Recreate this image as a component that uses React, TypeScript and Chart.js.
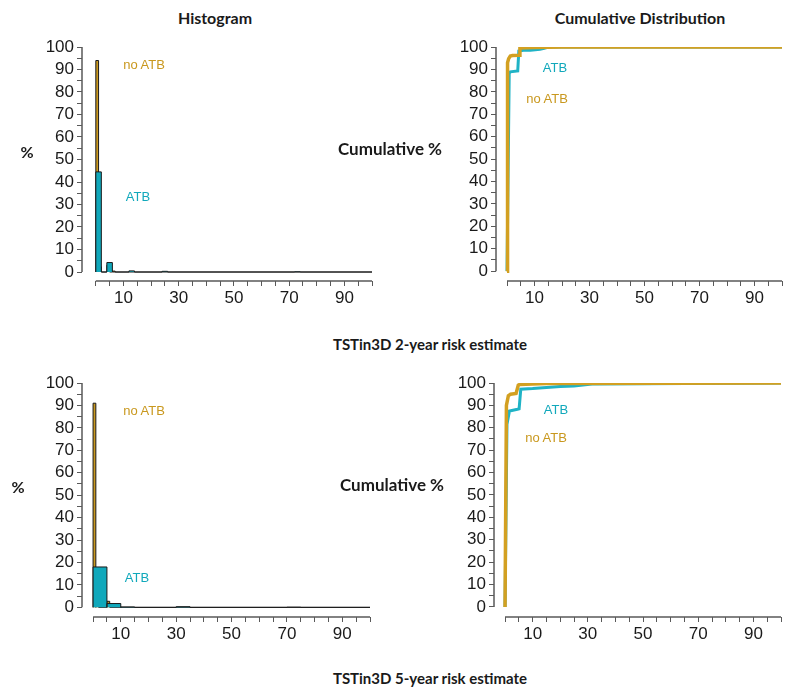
import React, { useEffect, useRef } from "react";
import { Chart, registerables } from "chart.js";

Chart.register(...registerables);

// ---------- colours ----------
const GOLD = "#C9981E";
const TEAL = "#10A8BB";
const GOLD_LINE = "#D3A021";
const TEAL_LINE = "#1FB3C6";
const AXIS = "#595959";
const TEXT = "#1a1a1a";

// ---------- tick values ----------
const xTickValues = [0, 5, 10, 15, 20, 25, 30, 35, 40, 45, 50, 55, 60, 65, 70, 75, 80, 85, 90, 95, 100];
const xLabelValues = [10, 30, 50, 70, 90];
const yTickValues = [0, 5, 10, 15, 20, 25, 30, 35, 40, 45, 50, 55, 60, 65, 70, 75, 80, 85, 90, 95, 100];
const yLabelValues = [0, 10, 20, 30, 40, 50, 60, 70, 80, 90, 100];

// ---------- histogram data (percent, bins given by start and width) ----------
const hist2yrAtbStart = [0, 4, 12, 24, 72];
const hist2yrAtbPct = [44.5, 4.2, 0.5, 0.3, 0.1];
const hist2yrAtbWidth = 2;
const hist2yrNoAtbStart = [0, 1, 4, 6];
const hist2yrNoAtbPct = [94, 2.3, 3.0, 0.4];
const hist2yrNoAtbWidth = 1;

const hist5yrAtbStart = [0, 5, 10, 30, 70];
const hist5yrAtbPct = [18, 1.7, 0.2, 0.3, 0.1];
const hist5yrAtbWidth = 5;
const hist5yrNoAtbStart = [0, 1, 5];
const hist5yrNoAtbPct = [91, 4.3, 2.7];
const hist5yrNoAtbWidth = 1;

// ---------- cumulative distribution data ----------
const cum2yrNoAtbX = [0, 0.2, 0.6, 1.2, 2, 4.4, 4.7, 10, 20, 40, 100];
const cum2yrNoAtbY = [0, 93, 94.8, 96, 96.2, 96.3, 99.6, 99.8, 100, 100, 100];
const cum2yrAtbX = [0, 0.8, 1.2, 3.9, 4.3, 6, 8.5, 12, 13.5, 15, 100];
const cum2yrAtbY = [0, 88.2, 88.9, 89.3, 98.2, 98.5, 98.6, 99, 99.4, 100, 100];

const cum5yrNoAtbX = [0, 0.5, 1.2, 2, 4, 4.8, 5.2, 10, 15, 100];
const cum5yrNoAtbY = [0, 90, 94.3, 95, 95.3, 99, 99.3, 99.6, 99.8, 100];
const cum5yrAtbX = [0, 0.7, 1.6, 4.5, 5.1, 5.7, 10, 15, 20, 25, 31.5, 100];
const cum5yrAtbY = [0, 81.6, 87.5, 88.3, 88.5, 97.2, 97.5, 98, 98.4, 98.7, 99.6, 100];

const X_MAX = 100;

function histPoints(starts: number[], pcts: number[], width: number) {
  const pts: { x: number; y: number }[] = [{ x: 0, y: 0 }];
  starts.forEach((s, i) => {
    pts.push({ x: s, y: pcts[i] });
    pts.push({ x: s + width, y: 0 });
  });
  pts.push({ x: X_MAX, y: 0 });
  return pts;
}

function linePoints(xs: number[], ys: number[]) {
  return xs.map((x, i) => ({ x, y: ys[i] }));
}

const TICK_FONT = { family: "'Liberation Sans', Arial, sans-serif", size: 17 };

const axisLinesPlugin = {
  id: "axisLines",
  afterDraw(chart: any) {
    const { ctx, chartArea, scales } = chart;
    const x = scales.x;
    const y = scales.y;
    ctx.save();
    ctx.strokeStyle = AXIS;
    ctx.lineWidth = 1.5;
    ctx.beginPath();
    ctx.moveTo(chartArea.left, y.getPixelForValue(0));
    ctx.lineTo(chartArea.left, y.getPixelForValue(100));
    ctx.moveTo(x.getPixelForValue(0), chartArea.bottom);
    ctx.lineTo(x.getPixelForValue(100), chartArea.bottom);
    ctx.stroke();
    ctx.restore();
  },
};

type PanelProps = {
  left: number;
  top: number;
  datasets: any[];
  xMin: number;
  yMin: number;
  yAxisWidth: number;
  padRight: number;
};

const W = 400;
const H = 300;

function Panel({ left, top, datasets, xMin, yMin, yAxisWidth, padRight }: PanelProps) {
  const ref = useRef<HTMLCanvasElement | null>(null);
  useEffect(() => {
    if (!ref.current) return;
    const chart = new Chart(ref.current, {
      type: "line",
      data: { datasets },
      options: {
        animation: false,
        responsive: false,
        events: [],
        layout: { padding: { left: 0, right: padRight, top: 17, bottom: 18 } },
        plugins: {
          legend: { display: false },
          tooltip: { enabled: false },
          title: { display: false },
        },
        elements: { point: { radius: 0 } },
        scales: {
          x: {
            type: "linear",
            min: xMin,
            max: X_MAX,
            border: { display: false },
            grid: { drawOnChartArea: false, drawTicks: true, tickLength: 5, color: AXIS, lineWidth: 1 },
            ticks: {
              autoSkip: false,
              maxRotation: 0,
              padding: 2,
              color: TEXT,
              font: TICK_FONT,
              callback: (v: any) => (xLabelValues.includes(Number(v)) ? String(v) : ""),
            },
            afterBuildTicks: (s: any) => {
              s.ticks = xTickValues.map((v) => ({ value: v }));
            },
            afterFit: (s: any) => {
              s.height = H - 17 - 18 - 234;
            },
          },
          y: {
            type: "linear",
            min: yMin,
            max: 100,
            border: { display: false },
            grid: { drawOnChartArea: false, drawTicks: true, tickLength: 5, color: AXIS, lineWidth: 1 },
            ticks: {
              autoSkip: false,
              padding: 3,
              color: TEXT,
              font: TICK_FONT,
              callback: (v: any) => (yLabelValues.includes(Number(v)) ? String(v) : ""),
            },
            afterBuildTicks: (s: any) => {
              s.ticks = yTickValues.map((v) => ({ value: v }));
            },
            afterFit: (s: any) => {
              s.width = yAxisWidth;
            },
          },
        },
      } as any,
      plugins: [axisLinesPlugin],
    });
    return () => chart.destroy();
  }, []);
  return (
    <canvas
      ref={ref}
      width={W}
      height={H}
      style={{ position: "absolute", left, top, width: W, height: H }}
    />
  );
}

function histDataset(pts: any[], color: string) {
  return {
    data: pts,
    stepped: "before",
    fill: "origin",
    backgroundColor: color,
    borderColor: "#1a1a1a",
    borderWidth: 1,
    pointRadius: 0,
    tension: 0,
  };
}

function cumDataset(pts: any[], color: string, width: number) {
  return {
    data: pts,
    fill: false,
    borderColor: color,
    borderWidth: width,
    pointRadius: 0,
    tension: 0,
  };
}

const boldFont = "Lato, 'Open Sans', sans-serif";
const plainFont = "'Liberation Sans', Arial, sans-serif";

function Label({ x, y, text, bold, size, color }: { x: number; y: number; text: string; bold?: boolean; size: number; color?: string }) {
  return (
    <div
      style={{
        position: "absolute",
        left: x,
        top: y,
        transform: "translate(-50%, -50%)",
        whiteSpace: "nowrap",
        fontFamily: bold ? boldFont : plainFont,
        fontWeight: bold ? 700 : 400,
        fontSize: size,
        color: color || TEXT,
        lineHeight: 1,
      }}
    >
      {text}
    </div>
  );
}

export default function App() {
  const hist2 = [
    histDataset(histPoints(hist2yrAtbStart, hist2yrAtbPct, hist2yrAtbWidth), TEAL),
    histDataset(histPoints(hist2yrNoAtbStart, hist2yrNoAtbPct, hist2yrNoAtbWidth), GOLD),
  ];
  const hist5 = [
    histDataset(histPoints(hist5yrAtbStart, hist5yrAtbPct, hist5yrAtbWidth), TEAL),
    histDataset(histPoints(hist5yrNoAtbStart, hist5yrNoAtbPct, hist5yrNoAtbWidth), GOLD),
  ];
  const cum2 = [
    cumDataset(linePoints(cum2yrNoAtbX, cum2yrNoAtbY), GOLD_LINE, 3.5),
    cumDataset(linePoints(cum2yrAtbX, cum2yrAtbY), TEAL_LINE, 3),
  ];
  const cum5 = [
    cumDataset(linePoints(cum5yrNoAtbX, cum5yrNoAtbY), GOLD_LINE, 3.5),
    cumDataset(linePoints(cum5yrAtbX, cum5yrAtbY), TEAL_LINE, 3),
  ];

  return (
    <div style={{ position: "absolute", left: 0, top: 0, width: 800, height: 692, background: "#fff", overflow: "hidden" }}>
      <Panel left={0} top={30} datasets={hist2} xMin={-5} yMin={-4} yAxisWidth={82} padRight={28} />
      <Panel left={400} top={30} datasets={cum2} xMin={-4} yMin={-4.4} yAxisWidth={96} padRight={18} />
      <Panel left={0} top={366} datasets={hist5} xMin={-4} yMin={-4.3} yAxisWidth={82} padRight={30} />
      <Panel left={400} top={366} datasets={cum5} xMin={-4} yMin={-4.5} yAxisWidth={94} padRight={19} />

      <Label x={215} y={18} text="Histogram" bold size={16} />
      <Label x={640} y={18} text="Cumulative Distribution" bold size={16} />
      <Label x={27} y={152} text="%" bold size={16} />
      <Label x={18} y={487} text="%" bold size={16} />
      <Label x={390} y={148} text="Cumulative %" bold size={17} />
      <Label x={392} y={484} text="Cumulative %" bold size={17} />
      <Label x={430} y={344} text="TSTin3D 2-year risk estimate" bold size={15} />
      <Label x={430} y={678} text="TSTin3D 5-year risk estimate" bold size={15} />

      <Label x={144} y={64} text="no ATB" size={13} color={GOLD} />
      <Label x={138} y={196} text="ATB" size={13} color={TEAL} />
      <Label x={144} y={410} text="no ATB" size={13} color={GOLD} />
      <Label x={137} y={577} text="ATB" size={13} color={TEAL} />
      <Label x={555} y={67} text="ATB" size={13} color={TEAL} />
      <Label x={547} y={98} text="no ATB" size={13} color={GOLD} />
      <Label x={556} y={409} text="ATB" size={13} color={TEAL} />
      <Label x={546} y={437} text="no ATB" size={13} color={GOLD} />
    </div>
  );
}
